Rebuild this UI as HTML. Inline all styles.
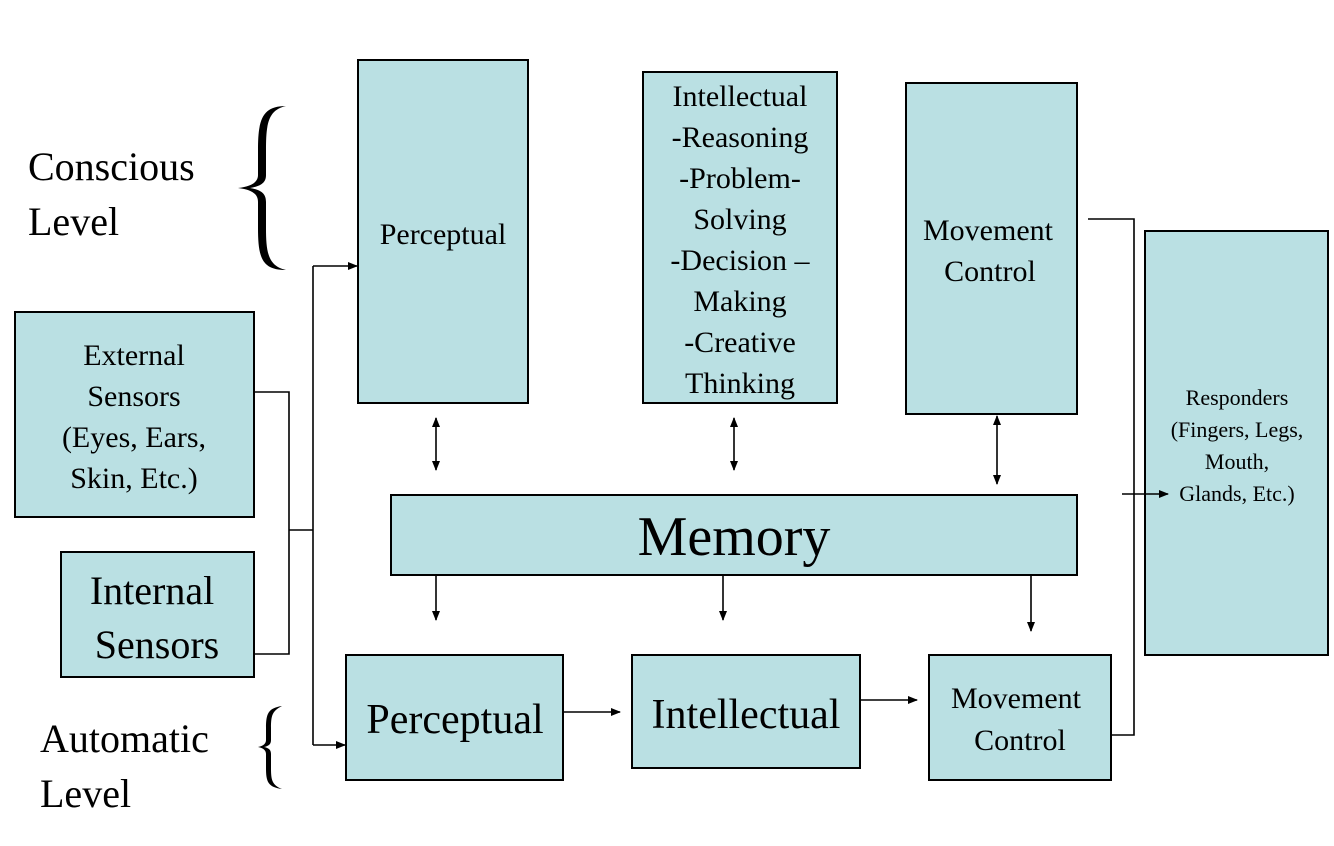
<!DOCTYPE html>
<html><head><meta charset="utf-8"><style>
html,body{margin:0;padding:0;background:#fff;}
svg{display:block;font-family:"Liberation Serif",serif;}
</style></head><body>
<svg width="1334" height="846" viewBox="0 0 1334 846" xmlns="http://www.w3.org/2000/svg">
<defs>
<marker id="a" markerWidth="10" markerHeight="8" refX="9" refY="4" orient="auto-start-reverse" markerUnits="userSpaceOnUse">
<path d="M0,0 L10,4 L0,8 Z" fill="#000"/></marker>
</defs>
<g fill="#bae0e3" stroke="#000" stroke-width="2">
<rect x="358" y="60" width="170" height="343"/>
<rect x="643" y="72" width="194" height="331"/>
<rect x="906" y="83" width="171" height="331"/>
<rect x="1145" y="231" width="183" height="424"/>
<rect x="15" y="312" width="239" height="205"/>
<rect x="61" y="552" width="193" height="125"/>
<rect x="391" y="495" width="686" height="80"/>
<rect x="346" y="655" width="217" height="125"/>
<rect x="632" y="655" width="228" height="113"/>
<rect x="929" y="655" width="182" height="125"/>
</g>
<g fill="none" stroke="#000" stroke-width="1.6">
<polyline points="254,392 289,392 289,654 254,654"/>
<line x1="289" y1="530" x2="313" y2="530"/>
<line x1="313" y1="266" x2="313" y2="745"/>
<line x1="313" y1="266" x2="357" y2="266" marker-end="url(#a)"/>
<line x1="313" y1="745" x2="345" y2="745" marker-end="url(#a)"/>
<line x1="436" y1="418" x2="436" y2="470" marker-start="url(#a)" marker-end="url(#a)"/>
<line x1="734" y1="418" x2="734" y2="470" marker-start="url(#a)" marker-end="url(#a)"/>
<line x1="997" y1="416" x2="997" y2="484" marker-start="url(#a)" marker-end="url(#a)"/>
<line x1="436" y1="575" x2="436" y2="620" marker-end="url(#a)"/>
<line x1="723" y1="575" x2="723" y2="620" marker-end="url(#a)"/>
<line x1="1031" y1="575" x2="1031" y2="631" marker-end="url(#a)"/>
<line x1="563" y1="712" x2="620" y2="712" marker-end="url(#a)"/>
<line x1="860" y1="700" x2="917" y2="700" marker-end="url(#a)"/>
<polyline points="1088,219 1134,219 1134,735 1111,735"/>
<line x1="1122" y1="494" x2="1168" y2="494" marker-end="url(#a)"/>
</g>
<g fill="#000" text-anchor="middle">
<text x="443" y="244" font-size="30">Perceptual</text>
<g font-size="30">
<text x="740" y="106">Intellectual</text>
<text x="740" y="147">-Reasoning</text>
<text x="740" y="188">-Problem-</text>
<text x="740" y="229">Solving</text>
<text x="740" y="270">-Decision –</text>
<text x="740" y="311">Making</text>
<text x="740" y="352">-Creative</text>
<text x="740" y="393">Thinking</text>
<text x="988" y="240">Movement</text>
<text x="990" y="281">Control</text>
<text x="134" y="365">External</text>
<text x="134" y="406">Sensors</text>
<text x="134" y="447">(Eyes, Ears,</text>
<text x="134" y="488">Skin, Etc.)</text>
<text x="1016" y="708">Movement</text>
<text x="1020" y="750">Control</text>
</g>
<g font-size="22">
<text x="1237" y="405">Responders</text>
<text x="1237" y="437">(Fingers, Legs,</text>
<text x="1237" y="469">Mouth,</text>
<text x="1237" y="501">Glands, Etc.)</text>
</g>
<text x="152" y="604" font-size="40">Internal</text>
<text x="157" y="658" font-size="40">Sensors</text>
<text x="734" y="555" font-size="56">Memory</text>
<text x="455" y="733" font-size="42">Perceptual</text>
<text x="746" y="728" font-size="42">Intellectual</text>
</g>
<g fill="#000" font-size="40">
<text x="28" y="180">Conscious</text>
<text x="28" y="235">Level</text>
<text x="40" y="752">Automatic</text>
<text x="40" y="807">Level</text>
</g>
<path d="M286,106 C262,106 258,120 258,150 L258,175 C258,180 255,186 238,188 C255,190 258,196 258,202 L258,228 C258,258 262,270 286,270 C268,266 266,252 266,228 L266,202 C266,194 262,190 250,188 C262,186 266,182 266,175 L266,150 C266,124 268,110 286,106 Z" fill="#000"/>
<path d="M282,706 C268,708 266,714 266,728 L266,740 C266,743 264,746 258,747 C264,748 266,751 266,754 L266,768 C266,782 268,787 282,789 C272,785 271,780 271,768 L271,754 C271,750 269,748 264,747 C269,746 271,744 271,740 L271,728 C271,716 272,711 282,706 Z" fill="#000"/>
</svg>
</body></html>
